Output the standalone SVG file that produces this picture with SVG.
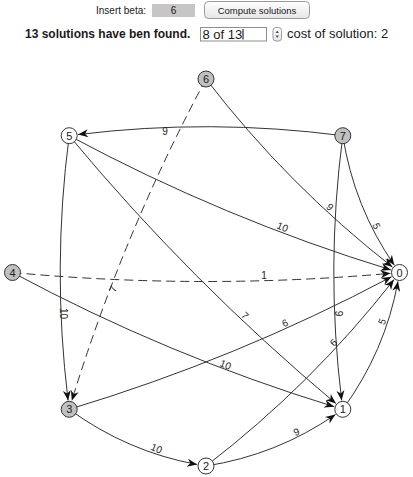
<svg xmlns="http://www.w3.org/2000/svg" width="413" height="477" viewBox="0 0 413 477">
<style>
.ui{font-family:"Liberation Sans",Arial,sans-serif;fill:#1a1a1a}
.e{fill:none;stroke:#333;stroke-width:1}
.d{stroke-dasharray:9,5}
.el{font-family:"Liberation Sans",Arial,sans-serif;font-size:10px;fill:#222;text-anchor:middle}
.nw{fill:#fff;stroke:#333;stroke-width:1}
.ng{fill:#c0c0c0;stroke:#333;stroke-width:1}
.nl{font-family:"Liberation Sans",Arial,sans-serif;font-size:11px;fill:#222;text-anchor:middle}
</style>
<defs>
<linearGradient id="btn" x1="0" y1="0" x2="0" y2="1">
<stop offset="0" stop-color="#ffffff"/>
<stop offset="1" stop-color="#e6e6e6"/>
</linearGradient>
<marker id="arr" viewBox="-11 -5 12 10" refX="0" refY="0" markerWidth="12" markerHeight="10" markerUnits="userSpaceOnUse" orient="auto">
<path d="M0,0 L-10,-4 L-7,0 L-10,4 Z" fill="#111"/>
</marker>
</defs>
<rect width="413" height="477" fill="#fff"/>
<g id="controls">
<text class="ui" x="96" y="13.5" font-size="10">Insert beta:</text>
<rect x="152" y="4" width="43" height="13" fill="#c6c6c6"/>
<text class="ui" x="173.5" y="14" font-size="10" text-anchor="middle">6</text>
<rect x="204.5" y="1.5" width="105" height="17" rx="4" fill="url(#btn)" stroke="#9a9a9a"/>
<text class="ui" x="257" y="13.5" font-size="9.5" text-anchor="middle">Compute solutions</text>
<text class="ui" x="25" y="38" font-size="12" font-weight="bold">13 solutions have ben found.</text>
<rect x="200.5" y="27.5" width="66" height="13.5" fill="#fff" stroke="#8e8e8e"/>
<text class="ui" x="202.5" y="38.5" font-size="13">8 of 13</text>
<line x1="243" y1="29" x2="243" y2="39.5" stroke="#000"/>
<rect x="273" y="27.5" width="8.5" height="13.5" rx="3" fill="url(#btn)" stroke="#9a9a9a"/>
<path d="M275.5,33 L277.25,30.5 L279,33 Z M275.5,35.5 L277.25,38 L279,35.5 Z" fill="#555"/>
<text class="ui" x="287" y="38" font-size="13">cost of solution: 2</text>
</g>
<g id="connectors">
<g id="e7-5"><path class="e" d="M342.8,135.7 Q210.46,118.29 78.12,134.56" marker-end="url(#arr)"/><text class="el" transform="translate(165,131.5)" y="3.5">9</text></g>
<g id="e6-0"><path class="e" d="M206,79 Q287.28,184.91 392.39,266.99" marker-end="url(#arr)"/><text class="el" transform="translate(330,207) rotate(45)" y="3.5">9</text></g>
<g id="e7-0"><path class="e" d="M342.8,135.7 Q353.83,206.54 394.3,265.19" marker-end="url(#arr)"/><text class="el" transform="translate(376.5,226) rotate(67.5)" y="3.5">5</text></g>
<g id="e7-1"><path class="e" d="M342.8,135.7 Q325.39,268.04 341.66,400.38" marker-end="url(#arr)"/><text class="el" transform="translate(338.5,313.5) rotate(90)" y="3.5">9</text></g>
<g id="e5-0"><path class="e" d="M69.2,135.7 Q223.5,218.6 390.89,269.89" marker-end="url(#arr)"/><text class="el" transform="translate(282.5,227) rotate(22.5)" y="3.5">10</text></g>
<g id="e4-0"><path class="e d" d="M12.5,272.5 Q201.52,290.08 390.54,273.32" marker-end="url(#arr)"/><text class="el" transform="translate(264,275.5)" y="3.5">1</text></g>
<g id="e3-0"><path class="e" d="M69.2,409.3 Q236.93,358.83 391.56,276.74" marker-end="url(#arr)"/><text class="el" transform="translate(285,323) rotate(-22.5)" y="3.5">6</text></g>
<g id="e2-0"><path class="e" d="M206,466 Q311.91,384.72 393.99,279.61" marker-end="url(#arr)"/><text class="el" transform="translate(333.5,342.5) rotate(-45)" y="3.5">6</text></g>
<g id="e1-0"><path class="e" d="M342.8,409.3 Q385.12,351.43 398,281.34" marker-end="url(#arr)"/><text class="el" transform="translate(382,321.7) rotate(-67.5)" y="3.5">5</text></g>
<g id="e5-1"><path class="e" d="M69.2,135.7 Q190.4,281.77 335.89,403.54" marker-end="url(#arr)"/><text class="el" transform="translate(245,315.5) rotate(45)" y="3.5">7</text></g>
<g id="e4-1"><path class="e" d="M12.5,272.5 Q166.8,355.4 334.19,406.69" marker-end="url(#arr)"/><text class="el" transform="translate(225.5,364.7) rotate(22.5)" y="3.5">10</text></g>
<g id="e2-1"><path class="e" d="M206,466 Q276.84,454.97 335.49,414.5" marker-end="url(#arr)"/><text class="el" transform="translate(296.5,432) rotate(-22.5)" y="3.5">9</text></g>
<g id="e3-2"><path class="e" d="M69.2,409.3 Q127.07,451.62 197.16,464.5" marker-end="url(#arr)"/><text class="el" transform="translate(156.5,448.5) rotate(22.5)" y="3.5">10</text></g>
<g id="e5-3"><path class="e" d="M69.2,135.7 Q51.79,268.04 68.06,400.38" marker-end="url(#arr)"/><text class="el" transform="translate(63.5,313.5) rotate(90)" y="3.5">10</text></g>
<g id="e6-3"><path class="e d" d="M206,79 Q123.1,233.3 71.82,400.69" marker-end="url(#arr)"/><text class="el" transform="translate(113,289) rotate(-67.5)" y="3.5">7</text></g>
</g>
<g id="nodes">
<g id="n0"><circle class="nw" cx="399.5" cy="272.5" r="8"/><text class="nl" x="399.5" y="276.5">0</text></g>
<g id="n1"><circle class="nw" cx="342.8" cy="409.3" r="8"/><text class="nl" x="342.8" y="413.3">1</text></g>
<g id="n2"><circle class="nw" cx="206" cy="466" r="8"/><text class="nl" x="206" y="470">2</text></g>
<g id="n3"><circle class="ng" cx="69.2" cy="409.3" r="8"/><text class="nl" x="69.2" y="413.3">3</text></g>
<g id="n4"><circle class="ng" cx="12.5" cy="272.5" r="8"/><text class="nl" x="12.5" y="276.5">4</text></g>
<g id="n5"><circle class="nw" cx="69.2" cy="135.7" r="8"/><text class="nl" x="69.2" y="139.7">5</text></g>
<g id="n6"><circle class="ng" cx="206" cy="79" r="8"/><text class="nl" x="206" y="83">6</text></g>
<g id="n7"><circle class="ng" cx="342.8" cy="135.7" r="8"/><text class="nl" x="342.8" y="139.7">7</text></g>
</g>
</svg>
